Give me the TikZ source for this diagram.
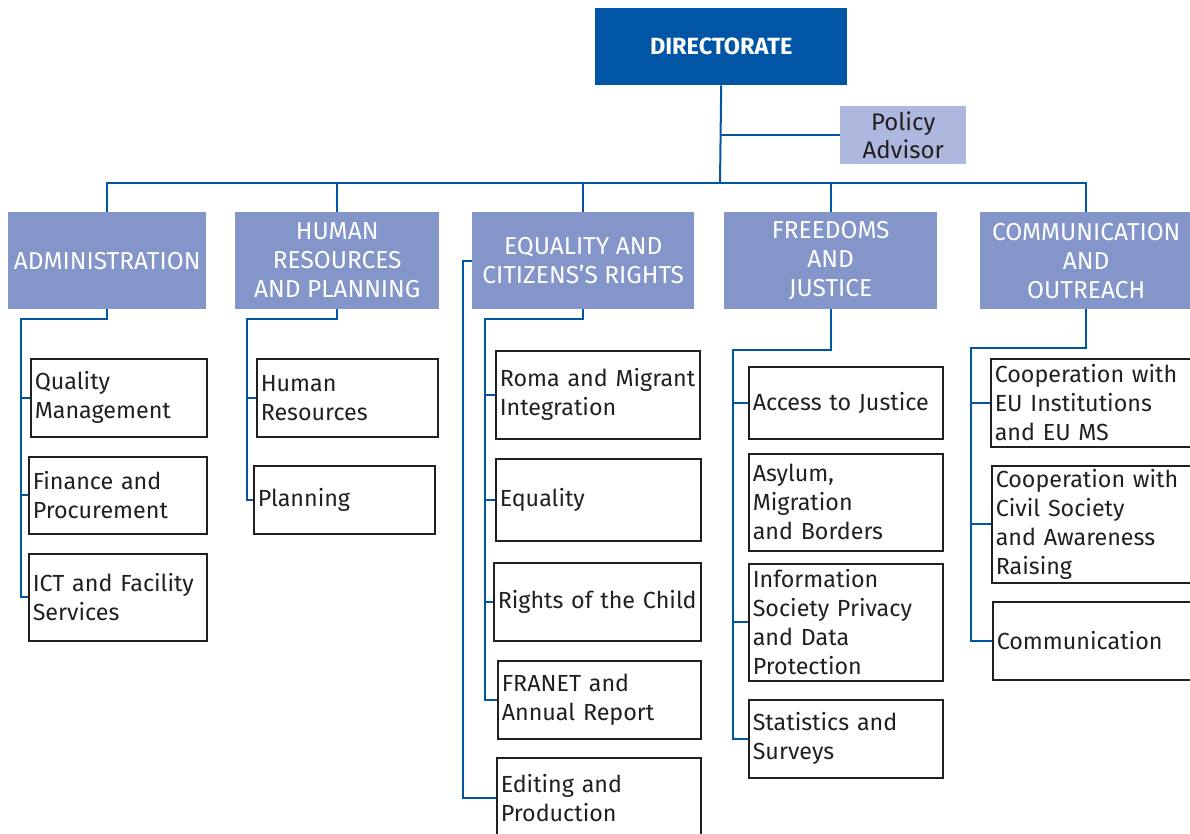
\documentclass[tikz,border=0pt]{standalone}
\usepackage{fontspec}
\setmainfont{Fira Sans}
\usepackage{xcolor}
\usetikzlibrary{positioning}
\definecolor{fraBlue}{HTML}{0055A4}
\definecolor{fraMid}{HTML}{8496C9}
\definecolor{fraLight}{HTML}{AEB7DD}
\definecolor{fraInk}{HTML}{231F20}

\begin{document}
\begin{tikzpicture}[x=1pt, y=-1pt,
  head/.style={fill=fraBlue, text=white, font=\bfseries\fontsize{23.5}{29}\selectfont, anchor=north west, inner sep=0},
  advisor/.style={fill=fraLight, text=fraInk, align=center, font=\fontsize{24}{28}\selectfont, anchor=north west, inner sep=0},
  dept/.style={fill=fraMid, text=white, align=center, minimum height=97, font=\fontsize{24.5}{29}\selectfont, anchor=north west, inner sep=0},
  unit/.style={draw=fraInk, line width=1.5, text=fraInk, align=left, inner xsep=4, inner ysep=0, font=\fontsize{23.3}{29}\selectfont, anchor=north west},
  link/.style={draw=fraBlue, line width=2}]

  % Frame
  \useasboundingbox (0,0) rectangle (1190,834);
  \clip (0,0) rectangle (1190,834);

  % Top
  \node[head, minimum width=252, minimum height=77] (dir) at (595,8) {DIRECTORATE};
  \node[advisor, minimum width=126, minimum height=58] (pol) at (840,106) {Policy\\Advisor};
  \coordinate (bus) at (720,183);

  % Departments
  \node[dept, minimum width=198] (adm) at (8,212) {ADMINISTRATION};
  \node[dept, minimum width=204] (hr) at (235,212) {HUMAN\\RESOURCES\\AND PLANNING};
  \node[dept, minimum width=222] (equ) at (472,212) {EQUALITY AND\\CITIZENS’S RIGHTS};
  \node[dept, minimum width=213] (fre) at (724,212) {FREEDOMS\\AND\\JUSTICE};
  \node[dept, minimum width=212] (com) at (980,212) {COMMUNICATION\\AND\\OUTREACH};

  % Administration units
  \node[unit, text width=168, minimum height=78] (qm) at (30,358) {Quality\\Management};
  \node[unit, text width=170, minimum height=77] (fin) at (28,456) {Finance and\\Procurement};
  \node[unit, text width=170, minimum height=87] (ict) at (28,553) {ICT and Facility\\Services};

  % Human resources units
  \node[unit, text width=173, minimum height=78] (hum) at (256,358) {Human\\Resources};
  \node[unit, text width=173, minimum height=68] (pla) at (253,465) {Planning};

  % Equality units
  \node[unit, text width=196, minimum height=88] (rom) at (495,350) {Roma and Migrant\\Integration};
  \node[unit, text width=197, minimum height=82] (eqy) at (495,458) {Equality};
  \node[unit, text width=199, minimum height=78] (roc) at (493,562) {Rights of the Child};
  \node[unit, text width=195, minimum height=78] (fra) at (497,660) {FRANET and\\Annual Report};
  \node[unit, text width=196, minimum height=80] (edi) at (496,757) {Editing and\\Production};

  % Freedoms units
  \node[unit, text width=186, minimum height=72] (acc) at (748,366) {Access to Justice};
  \node[unit, text width=186, minimum height=97] (asy) at (748,453) {Asylum,\\Migration\\and Borders};
  \node[unit, text width=186, minimum height=117] (inf) at (748,563) {Information\\Society Privacy\\and Data\\Protection};
  \node[unit, text width=186, minimum height=78] (sta) at (748,699) {Statistics and\\Surveys};

  % Communication units
  \node[unit, text width=202, minimum height=88] (ceu) at (990,358) {Cooperation with\\EU Institutions\\and EU MS};
  \node[unit, text width=201, minimum height=117] (civ) at (991,465) {Cooperation with\\Civil Society\\and Awareness\\Raising};
  \node[unit, text width=200, minimum height=78] (cmm) at (992,601) {Communication};

  % Top links
  \draw[link] (dir.south) -- (bus);
  \draw[link] (dir.south |- pol.west) -- (pol.west);
  \draw[link] (adm.north) |- (bus) -| (com.north);
  \draw[link] (hr.north) -- (hr.north |- bus);
  \draw[link] (equ.north) -- (equ.north |- bus);
  \draw[link] (fre.north) -- (fre.north |- bus);

  % Administration links
  \coordinate (admv) at (21,319);
  \draw[link] (adm.south) |- (admv) |- (ict.west);
  \draw[link] (admv |- qm.west) -- (qm.west);
  \draw[link] (admv |- fin.west) -- (fin.west);

  % Human resources links
  \coordinate (hrv) at (247,319);
  \draw[link] (hr.south) |- (hrv) |- (pla.west);
  \draw[link] (hrv |- hum.west) -- (hum.west);

  % Equality links
  \coordinate (equv) at (485,319);
  \draw[link] (equ.south) |- (equv) |- (fra.west);
  \draw[link] (equv |- rom.west) -- (rom.west);
  \draw[link] (equv |- eqy.west) -- (eqy.west);
  \draw[link] (equv |- roc.west) -- (roc.west);
  \draw[link] (equ.west) -- ++(-9,0) |- (edi.west);

  % Freedoms links
  \coordinate (frev) at (733,350);
  \draw[link] (fre.south) |- (frev) |- (sta.west);
  \draw[link] (frev |- acc.west) -- (acc.west);
  \draw[link] (frev |- inf.west) -- (inf.west);

  % Communication links
  \coordinate (comv) at (971,348);
  \draw[link] (com.south) |- (comv) |- (cmm.west);
  \draw[link] (comv |- ceu.west) -- (ceu.west);
  \draw[link] (comv |- civ.west) -- (civ.west);

\end{tikzpicture}
\end{document}
